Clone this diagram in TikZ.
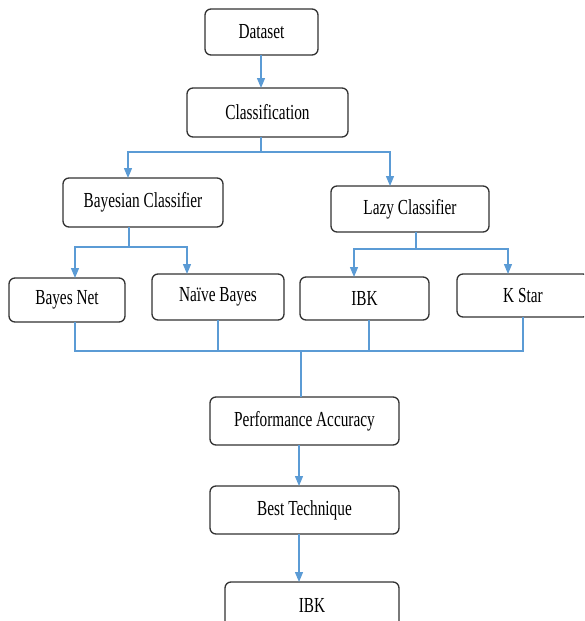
\documentclass[tikz,border=0pt]{standalone}
\usepackage{fontspec}
\setmainfont{Liberation Serif}
\usetikzlibrary{arrows.meta}
\definecolor{lineblue}{RGB}{91,155,213}
\definecolor{boxgray}{RGB}{50,50,50}
\newcommand{\tx}[1]{\scalebox{1}[1.4]{#1}}
\tikzset{
  box/.style={draw=boxgray, line width=1.3pt, rounded corners=6pt, inner sep=0pt,
    font=\fontsize{15.3}{18}\selectfont, fill=white},
  conn/.style={draw=lineblue, line width=1.3pt},
  arr/.style={conn, -{Triangle[length=10pt,width=8pt]}}
}
\begin{document}
\begin{tikzpicture}[x=1pt,y=-1pt]
\useasboundingbox (0,0) rectangle (584,621);
\clip (0,0) rectangle (584,621);
% boxes
\node[box, minimum width=113, minimum height=46] (ds) at (261.5,32) {\tx{Dataset}};
\node[box, minimum width=161, minimum height=49] (cls) at (267.5,112.5) {\tx{Classification}};
\node[box, minimum width=160, minimum height=49] (bay) at (143,202.5) {\tx{Bayesian Classifier}};
\node[box, minimum width=158, minimum height=46] (lazy) at (410,209) {\tx{Lazy Classifier}};
\node[box, minimum width=116, minimum height=44] (bn) at (67,300) {\tx{Bayes Net}};
\node[box, minimum width=132, minimum height=46] (nb) at (218,297) {\tx{Naïve Bayes}};
\node[box, minimum width=129, minimum height=43] (ibk) at (364.5,298.5) {\tx{IBK}};
\node[box, minimum width=132, minimum height=43] (ks) at (523,295.5) {\tx{K Star}};
\node[box, minimum width=189, minimum height=48] (perf) at (304.5,421) {\tx{Performance Accuracy}};
\node[box, minimum width=189, minimum height=48] (best) at (304.5,510) {\tx{Best Technique}};
\node[box, minimum width=174, minimum height=48] (res) at (312,606) {\tx{IBK}};
% coordinates
\coordinate (dsout) at (261,55);
\coordinate (clsin) at (261,88);
\coordinate (clsout) at (261,137);
\coordinate (bar1) at (261,152);
\coordinate (bayin) at (128,178);
\coordinate (lazyin) at (390,186);
\coordinate (bayout) at (129,227);
\coordinate (bar2) at (129,247);
\coordinate (bnin) at (75,278);
\coordinate (nbin) at (187,274);
\coordinate (lazyout) at (416,232);
\coordinate (bar3) at (416,249);
\coordinate (ibkin) at (354,277);
\coordinate (ksin) at (508,274);
\coordinate (bnout) at (75,322);
\coordinate (nbout) at (218,320);
\coordinate (ibkout) at (369,320);
\coordinate (ksout) at (523,317);
\coordinate (bar4) at (301,351);
\coordinate (perfin) at (301,397);
\coordinate (perfout) at (299,445);
\coordinate (bestin) at (299,486);
\coordinate (bestout) at (299,534);
\coordinate (resin) at (299,582);
% connectors
\draw[arr] (dsout) -- (clsin);
\draw[conn] (clsout) -- (bar1);
\draw[arr] (bar1) -| (bayin);
\draw[arr] (bar1) -| (lazyin);
\draw[conn] (bayout) -- (bar2);
\draw[arr] (bar2) -| (bnin);
\draw[arr] (bar2) -| (nbin);
\draw[conn] (lazyout) -- (bar3);
\draw[arr] (bar3) -| (ibkin);
\draw[arr] (bar3) -| (ksin);
\draw[conn] (bnout) |- (bar4);
\draw[conn] (ksout) |- (bar4);
\draw[conn] (nbout) -- (nbout |- bar4);
\draw[conn] (ibkout) -- (ibkout |- bar4);
\draw[conn] (bar4) -- (perfin);
\draw[arr] (perfout) -- (bestin);
\draw[arr] (bestout) -- (resin);
\end{tikzpicture}
\end{document}
